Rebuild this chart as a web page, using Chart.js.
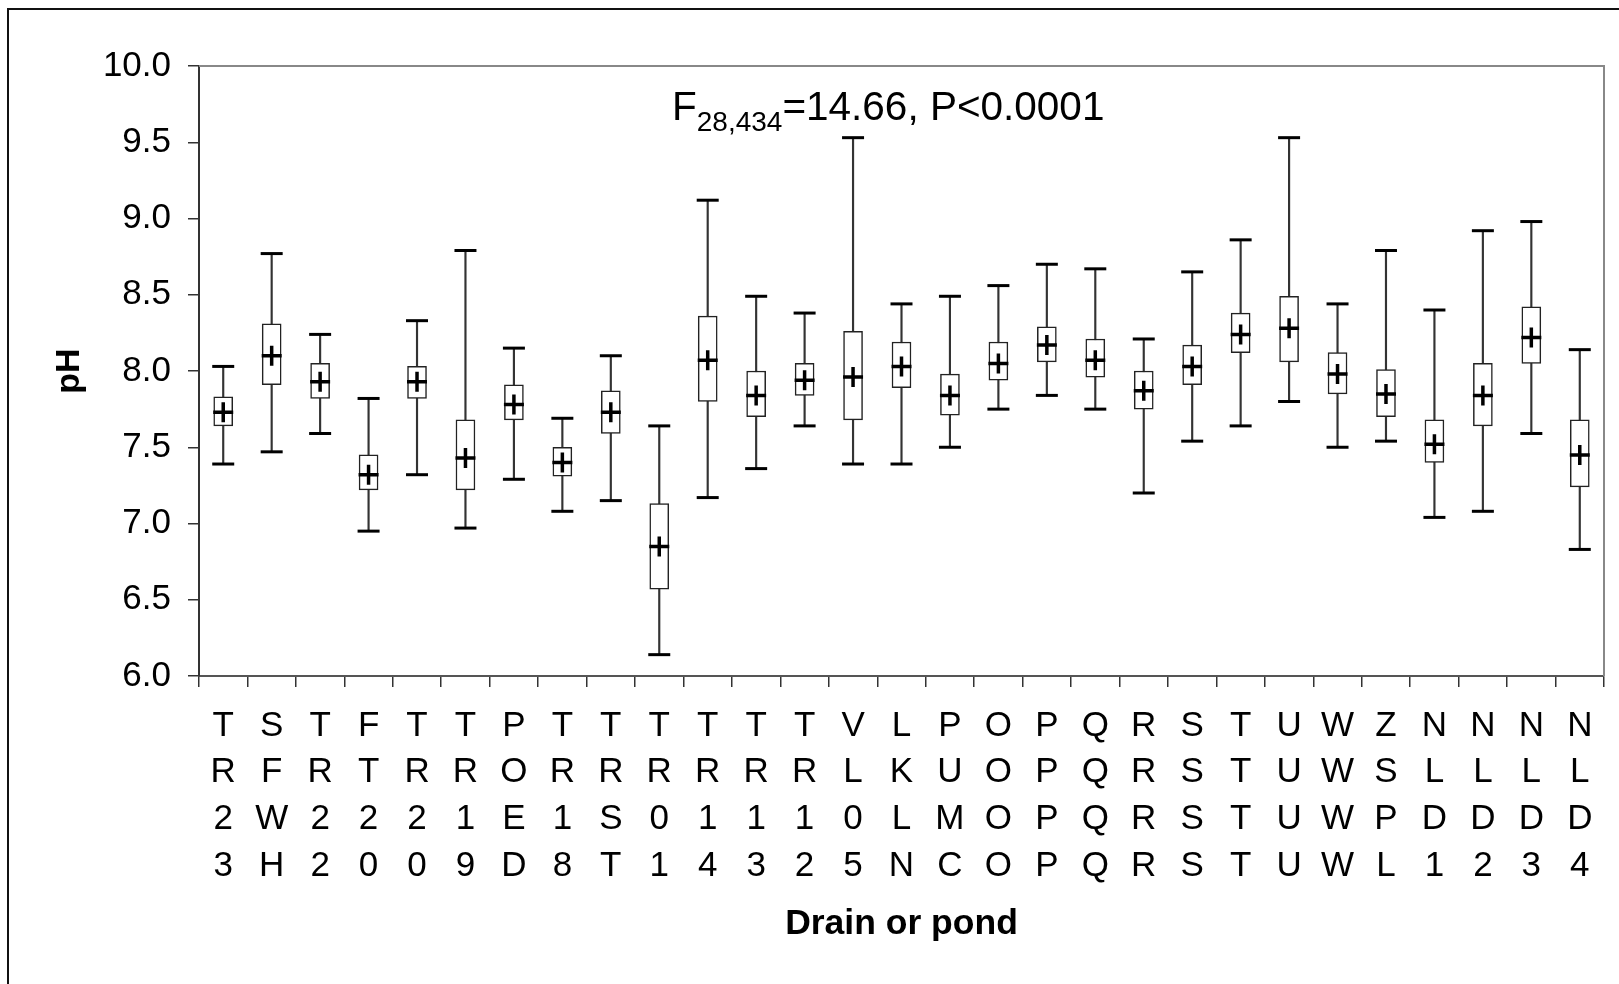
<!DOCTYPE html>
<html>
<head>
<meta charset="utf-8">
<script src="https://cdn.jsdelivr.net/npm/chart.js@4.4.1/dist/chart.umd.min.js"></script>
<style>
  html, body { margin: 0; padding: 0; background: #fff; }
  #wrap { width: 1619px; height: 984px; }
</style>
</head>
<body>
<div id="wrap"><canvas id="phChart" width="1619" height="984"></canvas></div>
<script>
// Sites (drain or pond), read left to right
var sites = ['TR23', 'SFWH', 'TR22', 'FT20', 'TR20', 'TR19', 'POED', 'TR18', 'TRST', 'TR01',
             'TR14', 'TR13', 'TR12', 'VL05', 'LKLN', 'PUMC', 'OOOO', 'PPPP', 'QQQQ', 'RRRR',
             'SSSS', 'TTTT', 'UUUU', 'WWWW', 'ZSPL', 'NLD1', 'NLD2', 'NLD3', 'NLD4'];

// pH summary values per site
var whiskerLow  = [7.39, 7.47, 7.59, 6.95, 7.32, 6.97, 7.29, 7.08, 7.15, 6.14,
                   7.17, 7.36, 7.64, 7.39, 7.39, 7.50, 7.75, 7.84, 7.75, 7.20,
                   7.54, 7.64, 7.80, 7.50, 7.54, 7.04, 7.08, 7.59, 6.83];
var boxLow      = [7.64, 7.91, 7.82, 7.22, 7.82, 7.22, 7.68, 7.31, 7.59, 6.57,
                   7.80, 7.70, 7.84, 7.68, 7.89, 7.71, 7.94, 8.06, 7.96, 7.75,
                   7.91, 8.12, 8.06, 7.85, 7.70, 7.40, 7.64, 8.05, 7.24];
var means       = [7.73, 8.10, 7.93, 7.32, 7.93, 7.43, 7.78, 7.40, 7.73, 6.85,
                   8.07, 7.84, 7.94, 7.96, 8.03, 7.84, 8.05, 8.17, 8.07, 7.87,
                   8.03, 8.24, 8.28, 7.98, 7.85, 7.52, 7.84, 8.22, 7.45];
var boxHigh     = [7.83, 8.31, 8.05, 7.45, 8.03, 7.68, 7.91, 7.50, 7.87, 7.13,
                   8.36, 8.00, 8.05, 8.26, 8.19, 7.98, 8.19, 8.29, 8.21, 8.00,
                   8.17, 8.38, 8.49, 8.12, 8.01, 7.68, 8.05, 8.42, 7.68];
var whiskerHigh = [8.03, 8.77, 8.24, 7.82, 8.33, 8.79, 8.15, 7.69, 8.10, 7.64,
                   9.12, 8.49, 8.38, 9.53, 8.44, 8.49, 8.56, 8.70, 8.67, 8.21,
                   8.65, 8.86, 9.53, 8.44, 8.79, 8.40, 8.92, 8.98, 8.14];

var yTickLabels = ['6.0', '6.5', '7.0', '7.5', '8.0', '8.5', '9.0', '9.5', '10.0'];

var FONT = '"Liberation Sans", Arial, sans-serif';

// white page + outer frame (left and top edges visible)
var framePlugin = {
  id: 'frame',
  beforeDraw: function (chart) {
    var ctx = chart.ctx;
    ctx.save();
    ctx.fillStyle = '#fff';
    ctx.fillRect(0, 0, chart.width, chart.height);
    ctx.strokeStyle = '#111';
    ctx.lineWidth = 2;
    ctx.beginPath();
    ctx.moveTo(8, chart.height + 2);
    ctx.lineTo(8, 9);
    ctx.lineTo(chart.width + 2, 9);
    ctx.stroke();
    ctx.restore();
  }
};

// gray top/right edge of the plot area
var plotBorder = {
  id: 'plotBorder',
  beforeDatasetsDraw: function (chart) {
    var a = chart.chartArea, ctx = chart.ctx;
    ctx.save();
    ctx.strokeStyle = '#888';
    ctx.lineWidth = 2;
    ctx.beginPath();
    ctx.moveTo(a.left, a.top);
    ctx.lineTo(a.right, a.top);
    ctx.lineTo(a.right, a.bottom);
    ctx.stroke();
    ctx.restore();
  }
};

// F statistic with subscript
var statsText = {
  id: 'statsText',
  afterDraw: function (chart) {
    var ctx = chart.ctx;
    var x = 672, y = 120;
    ctx.save();
    ctx.fillStyle = '#000';
    ctx.textBaseline = 'alphabetic';
    ctx.textAlign = 'left';
    ctx.font = '40.5px ' + FONT;
    ctx.fillText('F', x, y);
    x += ctx.measureText('F').width;
    ctx.font = '28px ' + FONT;
    ctx.fillText('28,434', x, y + 11);
    x += ctx.measureText('28,434').width;
    ctx.font = '40.5px ' + FONT;
    ctx.fillText('=14.66, P<0.0001', x, y);
    ctx.restore();
  }
};

var ctx = document.getElementById('phChart');

new Chart(ctx, {
  type: 'bar',
  data: {
    labels: sites.map(function (s) { return s.split(''); }),
    datasets: [
      {
        // whisker stems
        type: 'bar',
        data: whiskerLow.map(function (v, i) { return [v, whiskerHigh[i]]; }),
        backgroundColor: '#333',
        borderWidth: 0,
        barThickness: 1.5,
        grouped: false,
        order: 4
      },
      {
        // boxes
        type: 'bar',
        data: boxLow.map(function (v, i) { return [v, boxHigh[i]]; }),
        backgroundColor: '#fff',
        borderColor: '#222',
        borderWidth: 1.5,
        borderSkipped: false,
        barThickness: 19,
        grouped: false,
        order: 3
      },
      {
        type: 'line',
        data: whiskerHigh,
        showLine: false,
        pointStyle: 'line',
        pointRadius: 11,
        pointBorderWidth: 3,
        pointBorderColor: '#000',
        order: 2
      },
      {
        type: 'line',
        data: whiskerLow,
        showLine: false,
        pointStyle: 'line',
        pointRadius: 11,
        pointBorderWidth: 3,
        pointBorderColor: '#000',
        order: 2
      },
      {
        // means
        type: 'line',
        data: means,
        showLine: false,
        pointStyle: 'cross',
        pointRadius: 10,
        pointBorderWidth: 3.5,
        pointBorderColor: '#000',
        order: 1
      }
    ]
  },
  options: {
    responsive: false,
    animation: false,
    events: [],
    layout: {
      padding: { top: 66, right: 15, left: 0, bottom: 0 }
    },
    plugins: {
      legend: { display: false },
      tooltip: { enabled: false }
    },
    scales: {
      x: {
        offset: true,
        afterFit: function (s) { s.height = 984 - 676; },
        grid: {
          offset: true,
          drawOnChartArea: false,
          tickLength: 11,
          color: '#333',
          lineWidth: 1.5
        },
        border: { color: '#555', width: 2 },
        ticks: {
          autoSkip: false,
          maxRotation: 0,
          minRotation: 0,
          padding: 16,
          color: '#000',
          font: { family: FONT, size: 35, lineHeight: 1.33 }
        },
        title: {
          display: true,
          text: 'Drain or pond',
          color: '#000',
          font: { family: FONT, size: 35.5, weight: 'bold' },
          padding: { top: 0, bottom: 38 }
        }
      },
      y: {
        min: 6,
        max: 10,
        afterFit: function (s) { s.width = 199; },
        grid: {
          drawOnChartArea: false,
          tickLength: 11,
          color: '#333',
          lineWidth: 1.5
        },
        border: { color: '#333', width: 2 },
        ticks: {
          stepSize: 0.5,
          padding: 17,
          color: '#000',
          font: { family: FONT, size: 35 },
          callback: function (v) {
            var i = Math.round((v - 6) / 0.5);
            return yTickLabels[i];
          }
        },
        title: {
          display: true,
          text: 'pH',
          color: '#000',
          font: { family: FONT, size: 34, weight: 'bold' },
          padding: { top: 49, bottom: 0 }
        }
      }
    }
  },
  plugins: [framePlugin, plotBorder, statsText]
});
</script>
</body>
</html>
